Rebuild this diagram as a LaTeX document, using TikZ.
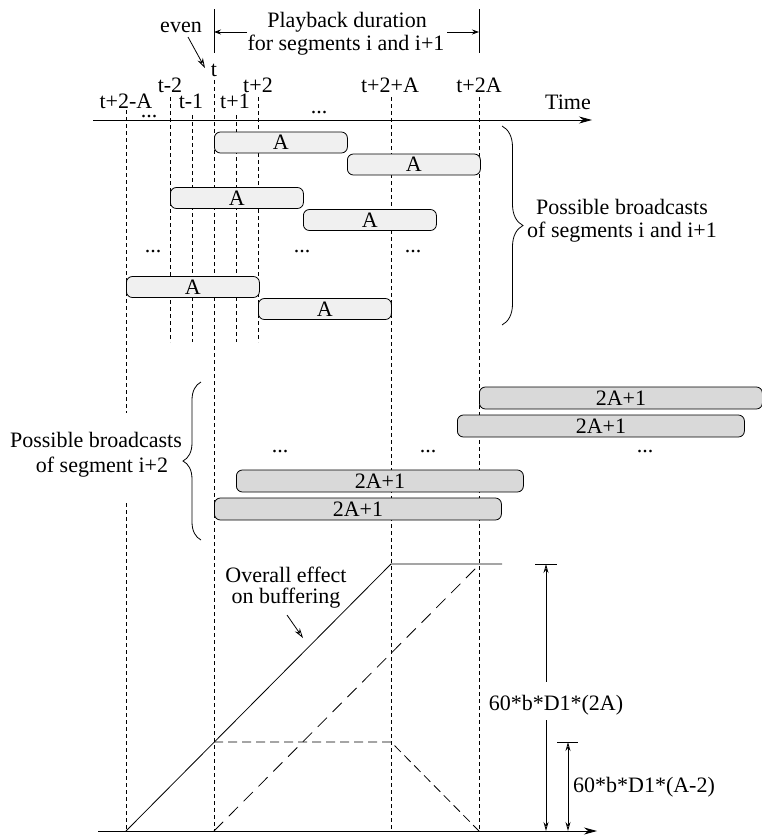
\documentclass[tikz,border=0pt]{standalone}
\usepackage{fontspec}
\setmainfont{Liberation Serif}
\usetikzlibrary{arrows.meta,decorations.pathreplacing}
\definecolor{boxA}{RGB}{240,240,240}
\definecolor{boxB}{RGB}{217,217,217}
\begin{document}
\begin{tikzpicture}[x=1pt,y=-1pt,line width=0.8pt,
  font=\fontsize{22}{23}\selectfont,
  vline/.style={dash pattern=on 4pt off 3pt},
  abox/.style={draw,rounded corners=6pt,fill=boxA,minimum height=21pt,minimum width=133pt,inner sep=0pt,anchor=west},
  bbox/.style={draw,rounded corners=6pt,fill=boxB,minimum height=22pt,minimum width=287pt,inner sep=0pt,anchor=west},
  lbl/.style={anchor=base,inner sep=0pt},
  dots/.style={inner sep=0pt},
  axisarrow/.style={-{Stealth[length=13pt,width=7pt]}},
  pointer/.style={-{Stealth[open,length=10pt,width=6pt]}},
  pbarrow/.style={-{Stealth[length=7pt,width=5pt]}},
  dimarrow/.style={{Stealth[open,length=9pt,width=5pt]}-{Stealth[open,length=9pt,width=5pt]}},
  bracedeco/.style={decorate,decoration={brace,amplitude=#1}}
]
\useasboundingbox (0,0) rectangle (762,836);

% vertical dashed guide lines
\draw[vline] (126,110) -- (126,413);
\draw[vline] (126,503) -- (126,831);
\draw[vline] (170,97) -- (170,342);
\draw[vline] (192,115) -- (192,342);
\draw[vline] (214,80) -- (214,831);
\draw[vline] (236,115) -- (236,342);
\draw[vline] (258,97) -- (258,342);
\draw[vline] (391,97) -- (391,831);
\draw[vline] (479,97) -- (479,831);

% time axis
\coordinate (tx0) at (93,120);
\coordinate (tx1) at (592,120);
\draw[axisarrow] (tx0) -- (tx1);
\node[lbl] (ltime) at (568,109) {Time};

% tick labels
\node[lbl] (lA) at (126,108) {t+2-A};
\node[lbl] (lm2) at (170,92) {t-2};
\node[lbl] (lm1) at (191,108) {t-1};
\node[lbl] (lt) at (214,76) {t};
\node[lbl] (lp1) at (235,108) {t+1};
\node[lbl] (lp2) at (258,92) {t+2};
\node[lbl] (lp2A) at (390,92) {t+2+A};
\node[lbl] (l2A) at (479,92) {t+2A};
\node[dots] (ad1) at (149,117) {...};
\node[dots] (ad2) at (319,113) {...};

% playback duration
\draw (214,9) -- (214,53);
\draw (479,9) -- (479,53);
\node[lbl] (pb1) at (347,27) {Playback duration};
\node[lbl] (pb2) at (346,50) {for segments i and i+1};
\coordinate (pbL) at (247,32);
\coordinate (pbLt) at (214,32);
\coordinate (pbR) at (447,32);
\coordinate (pbRt) at (479,32);
\draw[pbarrow] (pbL) -- (pbLt);
\draw[pbarrow] (pbR) -- (pbRt);

% even
\node[lbl] (even) at (181,32) {even};
\coordinate (ev0) at (188,37);
\coordinate (ev1) at (205,68);
\draw[pointer] (ev0) -- (ev1);

% segments i and i+1
\node[abox] (a1) at (214,142.5) {A};
\node[abox] (a2) at (347,164.5) {A};
\node[abox] (a3) at (170,198) {A};
\node[abox] (a4) at (303,220) {A};
\node[abox] (a5) at (126,287) {A};
\node[abox] (a6) at (258,309) {A};
\node[dots] (ud1) at (153,252) {...};
\node[dots] (ud2) at (302,252) {...};
\node[dots] (ud3) at (413,252) {...};

\draw[bracedeco=21pt] (502,126) -- (502,325);
\node[lbl] (rb1) at (622,214) {Possible broadcasts};
\node[lbl] (rb2) at (622,237) {of segments i and i+1};

% segment i+2
\node[bbox,minimum width=283pt] (b1) at (479,398) {2A+1};
\node[bbox] (b2) at (457,426) {2A+1};
\node[bbox] (b3) at (236,481) {2A+1};
\node[bbox] (b4) at (214,509) {2A+1};
\node[dots] (ld1) at (280,452) {...};
\node[dots] (ld2) at (428,452) {...};
\node[dots] (ld3) at (645,452) {...};

\draw[bracedeco=18pt] (201,540) -- (201,382);
\node[lbl] (lb1) at (96,447) {Possible broadcasts};
\node[lbl] (lb2) at (102,472) {of segment i+2};

% buffering graph
\coordinate (bx0) at (98,831);
\coordinate (bx1) at (597,831);
\draw[axisarrow] (bx0) -- (bx1);
\draw (126,831) -- (391,564) -- (502,564);
\draw[dash pattern=on 13pt off 8pt] (214,831) -- (476,568);
\draw[dash pattern=on 9pt off 5pt] (214,742) -- (391,742) -- (479,831);

\node[lbl] (ov1) at (286,582) {Overall effect};
\node[lbl] (ov2) at (286,603) {on buffering};
\coordinate (ov0) at (287,615);
\coordinate (ovt) at (303,638);
\draw[pointer] (ov0) -- (ovt);

% dimensions
\draw (535,564) -- (557,564);
\coordinate (d1t) at (546,564);
\coordinate (d1b) at (546,831);
\draw[dimarrow] (d1t) -- (d1b);
\node[lbl,fill=white,text height=28pt,text depth=10pt] (dl1) at (556,710) {60*b*D1*(2A)};

\draw (557,742) -- (578,742);
\coordinate (d2t) at (568,742);
\coordinate (d2b) at (568,831);
\draw[dimarrow] (d2t) -- (d2b);
\node[lbl] (dl2) at (644,792) {60*b*D1*(A-2)};
\end{tikzpicture}
\end{document}
